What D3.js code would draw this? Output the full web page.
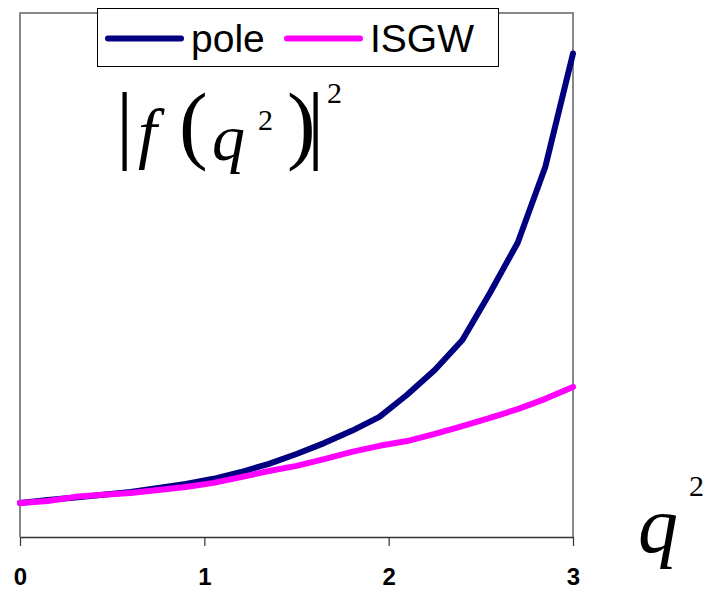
<!DOCTYPE html>
<html>
<head>
<meta charset="utf-8">
<script src="https://cdn.jsdelivr.net/npm/d3@7/dist/d3.min.js"></script>
<style>
  html, body { margin: 0; padding: 0; background: #fff; }
  svg { display: block; }
</style>
</head>
<body>
<svg id="chart" width="707" height="590"></svg>
<script>
// q^2 sample points
const q2 = [0, 0.15, 0.3, 0.45, 0.6, 0.75, 0.9, 1.05, 1.2, 1.35, 1.5,
            1.65, 1.8, 1.95, 2.1, 2.25, 2.4, 2.55, 2.7, 2.85, 3.0];

// |f(q^2)|^2, pole form
const pole = [1.00, 1.09, 1.16, 1.24, 1.32, 1.44, 1.56, 1.71, 1.91, 2.15, 2.44,
              2.76, 3.12, 3.53, 4.18, 4.91, 5.79, 7.18, 8.65, 10.88, 14.21];

// |f(q^2)|^2, ISGW form
const isgw = [1.00, 1.06, 1.18, 1.24, 1.29, 1.38, 1.47, 1.59, 1.76, 1.94, 2.09,
              2.29, 2.50, 2.68, 2.82, 3.03, 3.26, 3.50, 3.76, 4.06, 4.41];

const seriesNames = ["pole", "ISGW"];
const seriesColors = ["#000080", "#FF00FF"];
const xTicks = [0, 1, 2, 3];
const xDomain = [0, 3];
const yDomain = [0, 15.4];

const svg = d3.select("#chart");
const plot = { left: 20, right: 573, top: 13, bottom: 537 };

const x = d3.scaleLinear().domain(xDomain).range([plot.left, plot.right]);
const y = d3.scaleLinear().domain(yDomain).range([plot.bottom, plot.top]);

// frame: left, top and right edges in gray
svg.append("path")
  .attr("d", `M${plot.left},${plot.bottom}V${plot.top}H${plot.right}V${plot.bottom}`)
  .attr("fill", "none")
  .attr("stroke", "#888")
  .attr("stroke-width", 2);

// x axis
const xAxis = svg.append("g")
  .attr("transform", `translate(0,${plot.bottom})`)
  .call(d3.axisBottom(x).tickValues(xTicks).tickSize(9).tickSizeOuter(0).tickFormat(d3.format("d")));
xAxis.select(".domain").attr("stroke", "#333").attr("stroke-width", 1.5);
xAxis.selectAll(".tick line").attr("stroke", "#333").attr("stroke-width", 1.2);
xAxis.selectAll(".tick text")
  .attr("y", 0)
  .attr("dy", 0)
  .attr("transform", "translate(0,48)")
  .attr("font-family", "Arial, 'Liberation Sans', sans-serif")
  .attr("font-weight", "bold")
  .attr("font-size", 24)
  .attr("fill", "#000");

// curves
const line = d3.line()
  .x((d, i) => x(q2[i]))
  .y(d => y(d));

const curves = svg.append("g");
[pole, isgw].forEach((vals, k) => {
  curves.append("path")
    .datum(vals)
    .attr("d", line)
    .attr("fill", "none")
    .attr("stroke", seriesColors[k])
    .attr("stroke-width", 6)
    .attr("stroke-linejoin", "round")
    .attr("stroke-linecap", "round");
});

// legend
const legend = svg.append("g");
legend.append("rect")
  .attr("x", 97.5).attr("y", 8.5).attr("width", 401).attr("height", 58)
  .attr("fill", "#fff").attr("stroke", "#000").attr("stroke-width", 1);
const legendItems = [
  { x0: 108, x1: 181, tx: 191 },
  { x0: 287, x1: 360, tx: 370 }
];
legendItems.forEach((it, k) => {
  legend.append("line")
    .attr("x1", it.x0).attr("x2", it.x1).attr("y1", 38.5).attr("y2", 38.5)
    .attr("stroke", seriesColors[k]).attr("stroke-width", 6).attr("stroke-linecap", "round");
  legend.append("text")
    .attr("x", it.tx).attr("y", 52)
    .attr("font-family", "Arial, 'Liberation Sans', sans-serif")
    .attr("font-size", 39)
    .attr("fill", "#000")
    .text(seriesNames[k]);
});

// y-axis title: |f(q^2)|^2
const serif = "'Liberation Serif', 'Times New Roman', serif";
const yTitle = svg.append("g").attr("font-family", serif).attr("fill", "#000");
yTitle.append("text").attr("x", 116).attr("y", 152).attr("font-size", 86).text("|");
yTitle.append("text").attr("x", 138).attr("y", 156).attr("font-size", 68).attr("font-style", "italic").text("f");
yTitle.append("text").attr("x", 179).attr("y", 153).attr("font-size", 86).text("(");
yTitle.append("text").attr("x", 212).attr("y", 160).attr("font-size", 66).attr("font-style", "italic").text("q");
yTitle.append("text").attr("x", 258).attr("y", 130).attr("font-size", 30).text("2");
yTitle.append("text").attr("x", 287).attr("y", 153).attr("font-size", 86).text(")");
yTitle.append("text").attr("x", 307).attr("y", 152).attr("font-size", 86).text("|");
yTitle.append("text").attr("x", 327).attr("y", 103).attr("font-size", 30).text("2");

// x-axis title: q^2
const xTitle = svg.append("g").attr("font-family", serif).attr("fill", "#000");
xTitle.append("text").attr("x", 638).attr("y", 552).attr("font-size", 80).attr("font-style", "italic").text("q");
xTitle.append("text").attr("x", 689).attr("y", 496).attr("font-size", 30).text("2");
</script>
</body>
</html>
